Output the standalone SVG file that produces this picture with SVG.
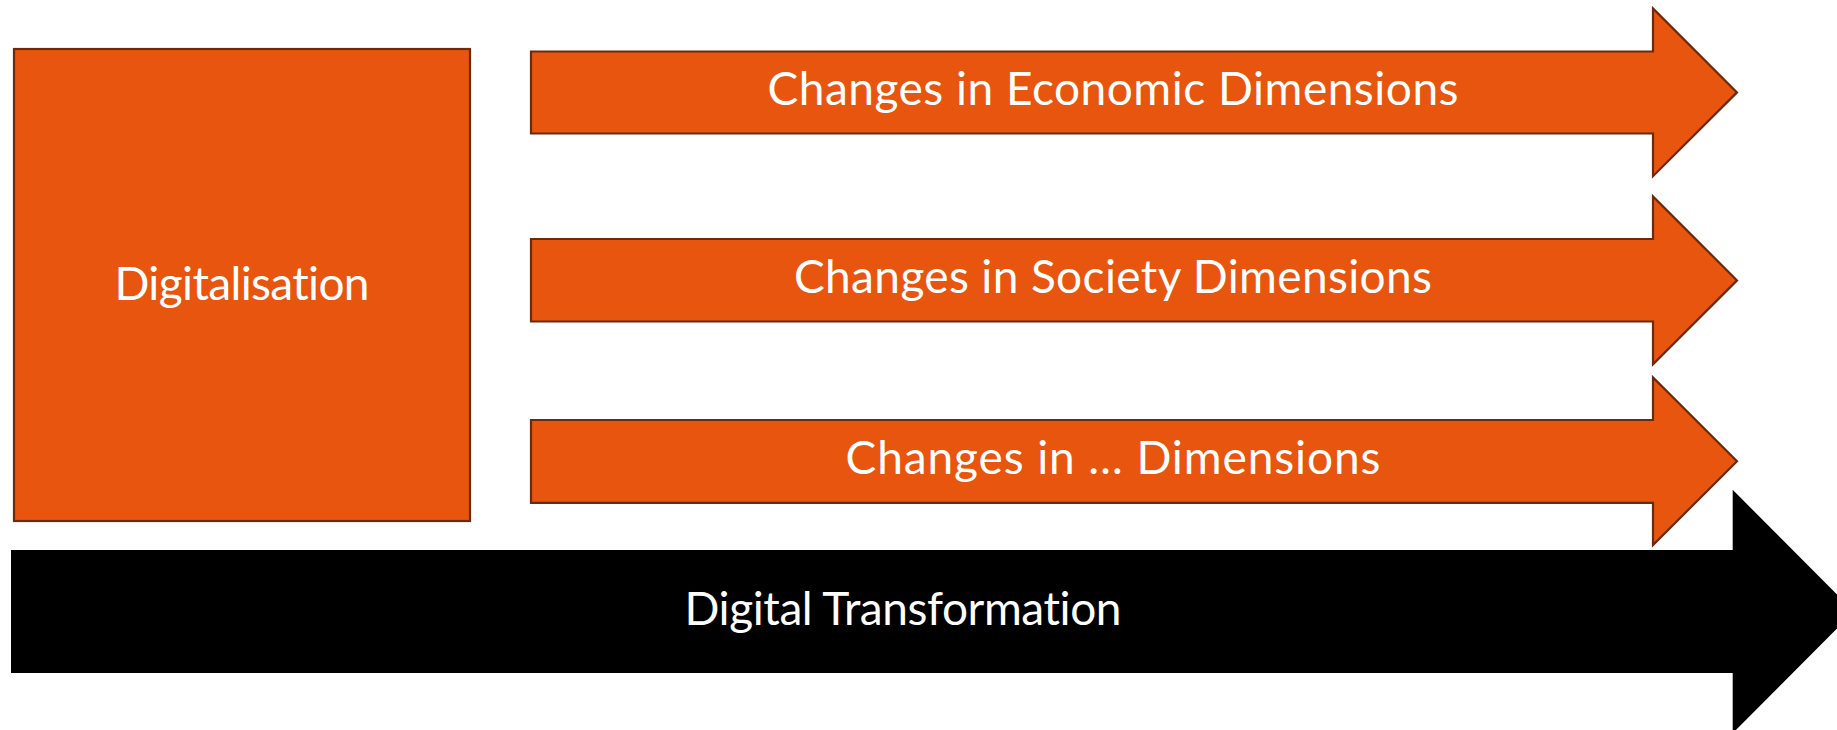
<svg xmlns="http://www.w3.org/2000/svg" width="1837" height="730" viewBox="0 0 1837 730">
  <style>
    .box { fill: #E8550E; stroke: #6B2A0C; stroke-width: 2.2; }
    .dark { fill: #000000; stroke: none; }
    .lbl { fill: #FFFFFF; font-family: Lato, "Open Sans", "Liberation Sans", sans-serif; font-size: 46px; font-weight: 400; text-anchor: middle; font-variant-ligatures: none; font-feature-settings: "liga" 0, "clig" 0; }
  </style>
  <rect x="0" y="0" width="1837" height="730" fill="#FFFFFF"/>
  <g id="digitalisation">
    <rect class="box" x="14" y="49" width="456" height="472"/>
    <text class="lbl" x="242" y="300" textLength="255">Digitalisation</text>
  </g>
  <g id="economic">
    <polygon class="box" points="531,51.5 1653,51.5 1653,8.5 1737,92.4 1653,176.2 1653,133.5 531,133.5"/>
    <text class="lbl" x="1113" y="105" textLength="691">Changes in Economic Dimensions</text>
  </g>
  <g id="society">
    <polygon class="box" points="531,239 1653,239 1653,196.5 1737,280.4 1653,364.3 1653,321.5 531,321.5"/>
    <text class="lbl" x="1113" y="293" textLength="638">Changes in Society Dimensions</text>
  </g>
  <g id="other">
    <polygon class="box" points="531,420 1653,420 1653,377.5 1737,461.3 1653,545 1653,502.8 531,502.8"/>
    <text class="lbl" x="1113" y="474" textLength="535">Changes in … Dimensions</text>
  </g>
  <g id="digital-transformation">
    <polygon class="dark" points="11,550 1732.7,550 1732.7,489.8 1854,611.5 1732.7,733.2 1732.7,673 11,673"/>
    <text class="lbl" x="903" y="625" textLength="437">Digital Transformation</text>
  </g>
  <g id="connectors"/>
</svg>
